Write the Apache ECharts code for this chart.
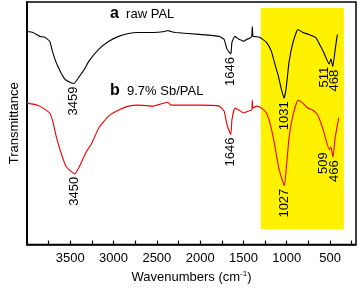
<!DOCTYPE html>
<html>
<head>
<meta charset="utf-8">
<script src="https://cdn.jsdelivr.net/npm/echarts@6/dist/echarts.min.js"></script>
<style>
html,body{margin:0;padding:0;background:#fff;}
#c{width:358px;height:289px;}
</style>
</head>
<body>
<div id="c"></div>
<script>
// ---- data (wavenumber, transmittance in arbitrary units) ----
const rawWn = [4000,3932,3852,3795,3738,3704,3647,3568,3522,3459,3397,3340,3283,3169,3055,2942,2828,2714,2543,2407,2373,2339,2282,2009,1781,1724,1690,1646,1633,1599,1553,1518,1496,1462,1428,1404,1398,1390,1383,1314,1235,1178,1144,1098,1064,1031,1007,973,927,870,814,745,666,609,575,511,489,468,440,415];
const rawT  = [217,216,212,211,207,196,182,169,166,164,171,178,187,199,207,212,215,216,216,217,218,217,216,214,212,209,199,194,206,212,209,208,207,209,210,212,222,212,212,211,206,197,186,172,159,149,159,186,206,219,216,214,211,202,196,184,189,181,199,214];

const sbWn = [4000,3932,3852,3738,3704,3659,3602,3545,3450,3397,3318,3260,3169,3055,2942,2828,2714,2543,2373,2339,2009,1781,1724,1690,1646,1633,1599,1553,1496,1440,1404,1398,1390,1348,1292,1235,1201,1155,1121,1087,1027,1007,973,927,870,814,757,700,643,586,509,489,466,440,400];
const sbT  = [144,143,141,134,126,109,92,79,72,79,94,102,119,131,137,141,142,141,145,142,142,141,136,122,112,127,139,137,134,136,137,147,139,141,139,134,126,109,92,76,60,76,109,132,147,144,139,137,132,119,97,99,89,109,129];

const xTickValues = [250,500,750,1000,1250,1500,1750,2000,2250,2500,2750,3000,3250,3500,3750];
const xLabelValues = [500,1000,1500,2000,2500,3000,3500];

// peak annotations: [text, wavenumber, transmittance at peak]
const rawPeaks = [["3459",3459,164],["1646",1646,194],["1031",1031,149],["511",511,184],["468",468,181]];
const sbPeaks  = [["3450",3450,72],["1646",1646,112],["1027",1027,60],["509",509,97],["466",466,89]];

const highlightRange = [1300, 340]; // wavenumber span of yellow box
const highlightT = [16, 241];

const zip = (a,b)=>a.map((v,i)=>[v,b[i]]);
const chart = echarts.init(document.getElementById('c'), null, {renderer:'canvas'});
const FONT = 'Liberation Sans, Arial, sans-serif';

chart.setOption({
  animation:false,
  grid:{left:22,right:2,top:2,bottom:40,show:true,borderColor:'#000',borderWidth:1.5,backgroundColor:'transparent'},
  xAxis:{
    type:'value', min:200, max:4000, inverse:true,
    name:'Wavenumbers (cm{sup|-1})', nameLocation:'middle', nameGap:24,
    nameTextStyle:{fontFamily:FONT,fontSize:13,color:'#000',
      rich:{sup:{fontSize:8,verticalAlign:'top',padding:[0,0,8,0],fontFamily:FONT,color:'#000'}}},
    axisLine:{show:true,lineStyle:{color:'#000',width:1.5}},
    axisTick:{show:true,inside:true,length:4,customValues:xTickValues,lineStyle:{color:'#000',width:1.2}},
    axisLabel:{customValues:xLabelValues,fontFamily:FONT,fontSize:13,color:'#000',margin:7,
      formatter:(v)=>String(v)},
    splitLine:{show:false}
  },
  yAxis:{
    type:'value', min:0, max:247,
    name:'Transmittance', nameLocation:'middle', nameGap:6,
    nameTextStyle:{fontFamily:FONT,fontSize:13,color:'#000'},
    axisLine:{show:true,lineStyle:{color:'#000',width:1.8}},
    axisTick:{show:false}, axisLabel:{show:false}, splitLine:{show:false}
  },
  series:[
    {type:'line', data:zip(rawWn,rawT), showSymbol:false, symbol:'none', smooth:0.15,
     lineStyle:{color:'#000',width:1.1}, z:3,
     markArea:{silent:true, itemStyle:{color:'#FFF200'},
       data:[[{coord:[highlightRange[0],highlightT[1]]},{coord:[highlightRange[1],highlightT[0]]}]]}},
    {type:'line', data:zip(sbWn,sbT), showSymbol:false, symbol:'none', smooth:0.15,
     lineStyle:{color:'#EE0000',width:1.1}, z:3}
  ]
});

// annotations placed through the chart's scales
const dxMap = {"511":-5,"468":2,"509":-6,"466":1};
const elems = [];
function addPeaks(list){
  list.forEach(([txt,wn,t])=>{
    const p = chart.convertToPixel({xAxisIndex:0,yAxisIndex:0},[wn,t]);
    elems.push({type:'text', x:p[0]+(dxMap[txt]||0), y:p[1]+3, rotation:Math.PI/2, z:10,
      style:{text:txt, fill:'#000', font:'13px '+FONT, align:'right', verticalAlign:'middle'}});
  });
}
addPeaks(rawPeaks);
addPeaks(sbPeaks);
elems.push({type:'text', left:110, top:6, z:10,
  style:{text:'{b|a}  raw PAL', font:'13px '+FONT, fill:'#000',
    rich:{b:{font:'bold 16px '+FONT, fill:'#000'}}}});
elems.push({type:'text', left:110, top:83, z:10,
  style:{text:'{b|b}  9.7% Sb/PAL', font:'13px '+FONT, fill:'#000',
    rich:{b:{font:'bold 16px '+FONT, fill:'#000'}}}});
chart.setOption({graphic:{elements:elems}});
</script>
</body>
</html>
